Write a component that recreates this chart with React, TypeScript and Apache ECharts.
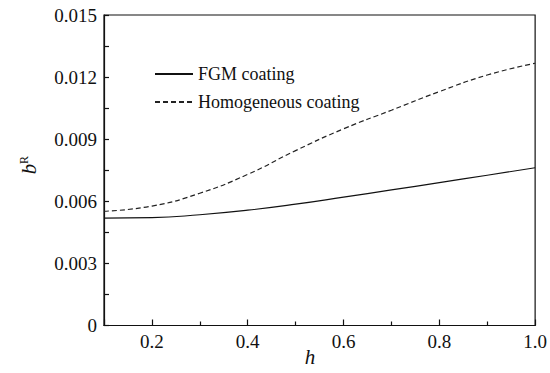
import React, { useEffect, useRef } from "react";
import * as echarts from "echarts";

// Relative film thickness h and the resulting b^R values for both coating types
const hValues = [0.1, 0.2, 0.3, 0.4, 0.5, 0.6, 0.7, 0.8, 0.9, 1.0];
const fgmValues = [0.00519, 0.00521, 0.00535, 0.00557, 0.00586, 0.0062, 0.00655, 0.0069, 0.00726, 0.00762];
const homogeneousValues = [0.00552, 0.00577, 0.00639, 0.0073, 0.00845, 0.0095, 0.0104, 0.0113, 0.0121, 0.01267];
const seriesNames = ["FGM coating", "Homogeneous coating"];

const FONT = "Liberation Serif";

export default function App() {
  const ref = useRef<HTMLDivElement>(null);

  useEffect(() => {
    if (!ref.current) return;
    const chart = echarts.init(ref.current, undefined, { renderer: "svg" });

    const pairs = (ys: number[]) => hValues.map((x, i) => [x, ys[i]]);

    chart.setOption({
      animation: false,
      backgroundColor: "#fff",
      textStyle: { fontFamily: FONT },
      grid: {
        left: 104,
        right: 13,
        top: 15,
        bottom: 47.5,
        show: true,
        borderColor: "#111",
        borderWidth: 1.2,
      },
      legend: {
        orient: "vertical",
        left: 154,
        top: 65,
        padding: 0,
        itemWidth: 38,
        itemHeight: 14,
        itemGap: 10,
        itemStyle: { opacity: 0 },
        textStyle: { fontFamily: FONT, fontSize: 18, color: "#111" },
        data: seriesNames,
      },
      xAxis: {
        type: "value",
        min: 0.1,
        max: 1.0,
        splitNumber: 5,
        axisLine: { show: true, lineStyle: { color: "#111", width: 1.2 } },
        axisTick: { inside: true, length: 6, lineStyle: { color: "#111", width: 1.2 } },
        minorTick: { show: true, splitNumber: 2, length: 4, lineStyle: { color: "#111", width: 1.2 } },
        splitLine: { show: false },
        axisLabel: {
          showMinLabel: false,
          margin: 6,
          fontFamily: FONT,
          fontSize: 19,
          color: "#111",
          formatter: (v: number) => v.toFixed(1),
        },
      },
      yAxis: {
        type: "value",
        min: 0,
        max: 0.015,
        interval: 0.003,
        axisLine: { show: true, lineStyle: { color: "#111", width: 1.2 } },
        axisTick: { inside: true, length: 5, lineStyle: { color: "#111", width: 1.2 } },
        minorTick: { show: true, splitNumber: 2, length: 5, lineStyle: { color: "#111", width: 1.2 } },
        splitLine: { show: false },
        axisLabel: {
          margin: 7,
          fontFamily: FONT,
          fontSize: 19,
          color: "#111",
          formatter: (v: number) => (v === 0 ? "0" : v.toFixed(3)),
        },
      },
      graphic: [
        {
          type: "text",
          x: 310,
          y: 357,
          style: {
            text: "h",
            font: `italic 21px ${FONT}`,
            fill: "#111",
            textAlign: "center",
            textVerticalAlign: "middle",
          },
        },
        {
          type: "group",
          x: 29,
          y: 168,
          rotation: Math.PI / 2,
          children: [
            {
              type: "text",
              x: -1,
              y: 0,
              style: {
                text: "b",
                font: `italic 21px ${FONT}`,
                fill: "#111",
                textAlign: "center",
                textVerticalAlign: "middle",
              },
            },
            {
              type: "text",
              x: 4,
              y: -5,
              style: {
                text: "R",
                font: `12px ${FONT}`,
                fill: "#111",
                textAlign: "left",
                textVerticalAlign: "middle",
              },
            },
          ],
        },
      ],
      series: [
        {
          name: seriesNames[0],
          type: "line",
          data: pairs(fgmValues),
          smooth: true,
          symbol: "none",
          lineStyle: { color: "#111", width: 1.2, type: "solid" },
          itemStyle: { color: "#111" },
        },
        {
          name: seriesNames[1],
          type: "line",
          data: pairs(homogeneousValues),
          smooth: true,
          symbol: "none",
          lineStyle: { color: "#222", width: 1.2, type: [5, 3] },
          itemStyle: { color: "#222" },
        },
      ],
    });

    return () => chart.dispose();
  }, []);

  return <div ref={ref} style={{ width: 550, height: 373, position: "absolute", left: 0, top: 0 }} />;
}
